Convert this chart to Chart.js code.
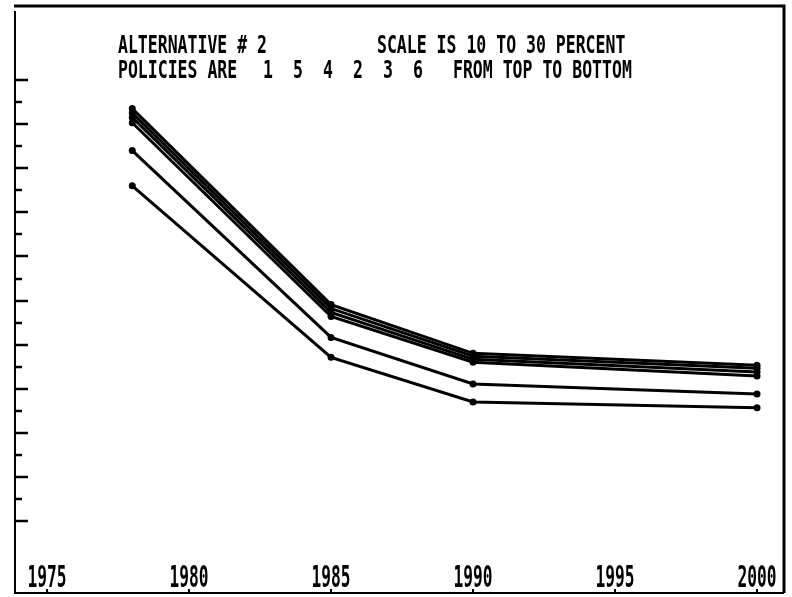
<!DOCTYPE html>
<html>
<head>
<meta charset="utf-8">
<title>Alternative 2</title>
<script src="https://cdn.jsdelivr.net/npm/chart.js@4.4.1/dist/chart.umd.min.js"></script>
<style>
    html, body { margin: 0; padding: 0; background: #fff; }
    canvas { display: block; }
</style>
</head>
<body>
<canvas id="policyChart" width="792" height="597"></canvas>
<script>
// Years where each policy run was plotted
const years = [1978, 1985, 1990, 2000];

// Percent values per policy (top to bottom: 1 5 4 2 3 6)
const policy1 = [28.70, 19.82, 17.61, 17.07];
const policy5 = [28.50, 19.64, 17.48, 16.94];
const policy4 = [28.30, 19.46, 17.34, 16.76];
const policy2 = [28.06, 19.28, 17.21, 16.58];
const policy3 = [26.80, 18.33, 16.22, 15.77];
const policy6 = [25.20, 17.43, 15.41, 15.14];

// Axis tick values
const yearTicks = [1975, 1980, 1985, 1990, 1995, 2000];
const percentTicks = [10, 11, 12, 13, 14, 15, 16, 17, 18, 19, 20, 21, 22, 23, 24, 25, 26, 27, 28, 29, 30];

// Header text, in the order the plotter printed it
const policyOrder = ['1', '5', '4', '2', '3', '6'];
const headerLeft = 'ALTERNATIVE # 2';
const headerRight = 'SCALE IS 10 TO 30 PERCENT';
const policyPrefix = 'POLICIES ARE';
const policySuffix = 'FROM TOP TO BOTTOM';

const policies = [
    { label: 'Policy 1', values: policy1 },
    { label: 'Policy 5', values: policy5 },
    { label: 'Policy 4', values: policy4 },
    { label: 'Policy 2', values: policy2 },
    { label: 'Policy 3', values: policy3 },
    { label: 'Policy 6', values: policy6 }
];

const MONO = '"DejaVu Sans Mono", "Liberation Mono", monospace';

// Draw condensed text (old plotter style) by squeezing it horizontally
function drawSqueezed(ctx, text, x, y, size, squeeze, align) {
    ctx.save();
    ctx.font = `bold ${size}px ${MONO}`;
    ctx.textBaseline = 'alphabetic';
    const w = ctx.measureText(text).width * squeeze;
    let left = x;
    if (align === 'center') left = x - w / 2;
    ctx.translate(left, y);
    ctx.scale(squeeze, 1);
    ctx.textAlign = 'left';
    ctx.fillText(text, 0, 0);
    ctx.restore();
}

// Frame, ticks and text drawn on top of the chart
const plotterDecor = {
    id: 'plotterDecor',
    afterDraw(chart) {
        const ctx = chart.ctx;
        const area = chart.chartArea;
        const xScale = chart.scales.x;
        const yScale = chart.scales.y;

        ctx.save();
        ctx.strokeStyle = '#000';
        ctx.fillStyle = '#000';

        // Frame
        ctx.lineWidth = 3;
        ctx.beginPath();
        ctx.moveTo(area.left - 1, area.top);
        ctx.lineTo(area.right, area.top);
        ctx.lineTo(area.right, area.bottom);
        ctx.stroke();
        ctx.lineWidth = 2;
        ctx.beginPath();
        ctx.moveTo(area.right, area.bottom);
        ctx.lineTo(area.left, area.bottom);
        ctx.lineTo(area.left, area.top + 5);
        ctx.stroke();

        // Percent ticks, long on even values
        ctx.lineWidth = 2.5;
        percentTicks.forEach(v => {
            const y = Math.round(yScale.getPixelForValue(v));
            const len = v % 2 === 0 ? 13 : 7;
            ctx.beginPath();
            ctx.moveTo(area.left, y);
            ctx.lineTo(area.left + len, y);
            ctx.stroke();
        });

        // Year ticks and labels
        ctx.lineWidth = 2;
        yearTicks.forEach(yr => {
            const x = Math.round(xScale.getPixelForValue(yr));
            ctx.beginPath();
            ctx.moveTo(x, area.bottom);
            ctx.lineTo(x, area.bottom - 4);
            ctx.stroke();
            drawSqueezed(ctx, String(yr), x, 587, 30, 0.54, 'center');
        });

        // Header lines
        const size = 25, sq = 0.66;
        drawSqueezed(ctx, headerLeft, 118, 53, size, sq, 'left');
        drawSqueezed(ctx, headerRight, 377, 53, size, sq, 'left');
        drawSqueezed(ctx, policyPrefix, 118, 78, size, sq, 'left');
        policyOrder.forEach((p, i) => {
            drawSqueezed(ctx, p, 263 + i * 30, 78, size, sq, 'left');
        });
        drawSqueezed(ctx, policySuffix, 453, 78, size, sq, 'left');

        ctx.restore();
    }
};

function createPolicyChart() {
    const canvas = document.getElementById('policyChart');
    if (!canvas) return;

    const datasets = policies.map(p => ({
        label: p.label,
        data: years.map((yr, i) => ({ x: yr, y: p.values[i] })),
        borderColor: '#000',
        backgroundColor: '#000',
        borderWidth: 3,
        pointRadius: 3.5,
        pointBackgroundColor: '#000',
        pointBorderWidth: 0,
        tension: 0,
        fill: false
    }));

    new Chart(canvas.getContext('2d'), {
        type: 'line',
        data: { datasets },
        options: {
            responsive: false,
            animation: false,
            layout: {
                padding: { left: 15, top: 6, right: 8, bottom: 2 }
            },
            plugins: {
                legend: { display: false },
                tooltip: { enabled: false },
                title: { display: false }
            },
            scales: {
                x: {
                    type: 'linear',
                    display: false,
                    min: 1973.87,
                    max: 2000.95
                },
                y: {
                    type: 'linear',
                    display: false,
                    min: 6.75,
                    max: 33.35
                }
            }
        },
        plugins: [plotterDecor]
    });
}

createPolicyChart();
</script>
</body>
</html>
